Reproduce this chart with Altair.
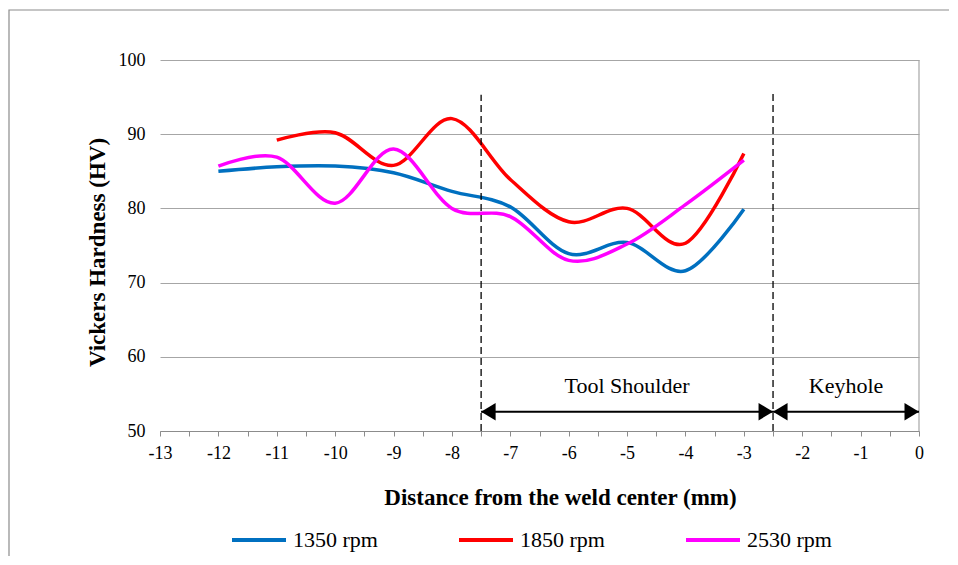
import altair as alt
import pandas as pd

# ---- data ----
distance = [-12, -11, -10, -9, -8, -7, -6, -5, -4, -3]
hv_1350 = [85.0, 85.6, 85.7, 84.8, 82.3, 80.2, 73.9, 75.4, 71.6, 79.9]
hv_1850 = [None, 89.2, 90.2, 85.8, 92.1, 83.9, 78.2, 80.0, 75.3, 87.4]
hv_2530 = [85.7, 86.9, 80.7, 88.0, 80.0, 78.9, 73.0, 75.2, 80.5, 86.5]
series_names = ["1350 rpm", "1850 rpm", "2530 rpm"]
series_colors = ["#0070C0", "#FF0000", "#FF00FF"]

zone_bounds = [-7.5, -2.5]
zone_tops = [95.3, 95.5]
arrow_start = [-7.5, -2.5]
arrow_end = [-2.5, 0.0]
arrow_level = 52.6
zone_labels = ["Tool Shoulder", "Keyhole"]
zone_label_x = [-5.0, -1.25]
zone_label_y = 55.1

x_tick_values = [-13, -12.5, -12, -11.5, -11, -10.5, -10, -9.5, -9, -8.5, -8,
                 -7.5, -7, -6.5, -6, -5.5, -5, -4.5, -4, -3.5, -3, -2.5, -2,
                 -1.5, -1, -0.5, 0]
y_tick_values = [50, 60, 70, 80, 90, 100]

FONT = "Liberation Serif"
X_TITLE = "Distance from the weld center (mm)"
Y_TITLE = "Vickers Hardness (HV)"

rows = []
for name, vals in zip(series_names, [hv_1350, hv_1850, hv_2530]):
    for d, v in zip(distance, vals):
        if v is not None:
            rows.append({"distance": d, "hv": v, "series": name})
lines_df = pd.DataFrame(rows)

xscale = alt.Scale(domain=[-13, 0], nice=False, zero=False)
yscale = alt.Scale(domain=[50, 100], nice=False, zero=False)

x_axis = alt.Axis(values=x_tick_values,
                  labelExpr="datum.value % 1 == 0 ? toString(datum.value) : ''",
                  title=X_TITLE,
                  grid=False, domainColor="#8C8C8C", tickColor="#8C8C8C",
                  tickSize=5, labelFont=FONT, labelFontSize=18,
                  labelColor="#000000", labelPadding=8, labelFlush=False,
                  titleFont=FONT, titleFontSize=23, titleFontWeight="bold",
                  titleColor="#000000", titleX=400, titleY=73,
                  titleBaseline="alphabetic", titleAlign="center")
y_axis = alt.Axis(values=y_tick_values, title=Y_TITLE,
                  grid=True, gridColor="#A6A6A6", domain=False, ticks=False,
                  labelFont=FONT, labelFontSize=18, labelColor="#000000",
                  labelPadding=15,
                  titleFont=FONT, titleFontSize=23, titleFontWeight="bold",
                  titleColor="#000000", titleX=-63, titleY=192,
                  titleBaseline="middle", titleAlign="center", titleAngle=270)


def X(field):
    return alt.X(field, scale=xscale, axis=x_axis, title=X_TITLE)


def Y(field):
    return alt.Y(field, scale=yscale, axis=y_axis, title=Y_TITLE)


lines = alt.Chart(lines_df).mark_line(interpolate="cardinal", strokeWidth=3.5).encode(
    x=X("distance:Q"),
    y=Y("hv:Q"),
    color=alt.Color("series:N",
                    scale=alt.Scale(domain=series_names, range=series_colors),
                    legend=alt.Legend(title=None, orient="none", legendX=70, legendY=451,
                                      direction="horizontal", symbolType="stroke",
                                      symbolSize=2916, symbolStrokeWidth=4,
                                      labelFont=FONT, labelFontSize=22,
                                      labelColor="#000000", labelOffset=5,
                                      columnPadding=73)),
)

zones_df = pd.DataFrame({"x": zone_bounds, "top": zone_tops, "bottom": [50, 50]})
zones = alt.Chart(zones_df).mark_rule(color="black", strokeWidth=1.3, strokeDash=[7, 4]).encode(
    x=X("x:Q"),
    y=Y("bottom:Q"),
    y2="top:Q",
)

right_df = pd.DataFrame({"x": [0.0], "lo": [50], "hi": [100]})
right_edge = alt.Chart(right_df).mark_rule(color="#A6A6A6", strokeWidth=1.2).encode(
    x=X("x:Q"),
    y=Y("lo:Q"),
    y2="hi:Q",
)

arrows_df = pd.DataFrame({"x1": arrow_start, "x2": arrow_end, "y": [arrow_level] * 2})
arrow_lines = alt.Chart(arrows_df).mark_rule(color="black", strokeWidth=2).encode(
    x=X("x1:Q"),
    x2="x2:Q",
    y=Y("y:Q"),
)
left_heads = alt.Chart(arrows_df).mark_point(
    shape="M0,0L1,-0.6L1,0.6Z", filled=True, color="black", opacity=1, size=841
).encode(
    x=X("x1:Q"),
    y=Y("y:Q"),
)
right_heads = alt.Chart(arrows_df).mark_point(
    shape="M0,0L-1,-0.6L-1,0.6Z", filled=True, color="black", opacity=1, size=841
).encode(
    x=X("x2:Q"),
    y=Y("y:Q"),
)

labels_df = pd.DataFrame({"x": zone_label_x, "y": [zone_label_y] * 2, "t": zone_labels})
zone_text = alt.Chart(labels_df).mark_text(
    font=FONT, fontSize=22, color="black", baseline="alphabetic", align="center"
).encode(
    x=X("x:Q"),
    y=Y("y:Q"),
    text="t:N",
)

border = alt.Chart(pd.DataFrame({"a": [0]})).mark_rect(
    fillOpacity=0, stroke="#8C8C8C", strokeWidth=1.2
).encode(
    x=alt.value(-151), x2=alt.value(1200), y=alt.value(-50), y2=alt.value(900)
)

chart = alt.layer(
    border, right_edge, lines, zones, arrow_lines, left_heads, right_heads, zone_text
).properties(
    width=759, height=371,
    autosize=alt.AutoSizeParams(type="none"),
    padding={"left": 152, "top": 52, "right": 30, "bottom": 125},
).configure_view(stroke=None)

chart.save("out.html", embed_options={"renderer": "svg", "actions": False})
